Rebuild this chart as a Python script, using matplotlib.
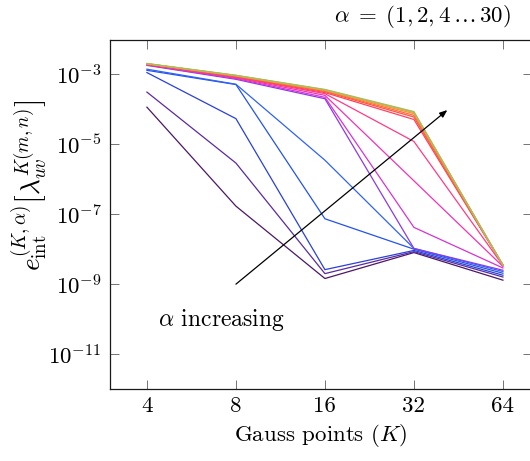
import matplotlib
matplotlib.use("Agg")
import matplotlib.pyplot as plt
from matplotlib.ticker import FixedLocator, LogFormatterSciNotation, NullLocator

plt.rcParams["font.family"] = ["cmr10", "DejaVu Serif"]
plt.rcParams["mathtext.fontset"] = "cm"
plt.rcParams["axes.formatter.use_mathtext"] = True
plt.rcParams["axes.unicode_minus"] = False

# Gauss points K
gauss_points = [4, 8, 16, 32, 64]

# alpha values, one curve each
alphas = [1, 2, 4, 6, 8, 10, 12, 14, 16, 18, 20, 22, 24, 26, 28, 30]

# integration error per alpha, evaluated at each K
err_a1 = [1.15e-4, 1.7e-7, 1.45e-9, 8.0e-9, 1.3e-9]
err_a2 = [3.1e-4, 2.9e-6, 2.0e-9, 8.5e-9, 1.6e-9]
err_a4 = [1.12e-3, 5.4e-5, 2.6e-9, 9.2e-9, 1.8e-9]
err_a6 = [1.3e-3, 5.1e-4, 7.4e-8, 1.0e-8, 2.05e-9]
err_a8 = [1.4e-3, 5.2e-4, 3.5e-6, 1.05e-8, 2.3e-9]
err_a10 = [1.8e-3, 7.2e-4, 2.0e-4, 1.05e-8, 2.5e-9]
err_a12 = [1.85e-3, 7.6e-4, 2.2e-4, 4.2e-8, 2.9e-9]
err_a14 = [1.9e-3, 8.0e-4, 2.5e-4, 9.0e-7, 3.2e-9]
err_a16 = [1.9e-3, 8.3e-4, 2.8e-4, 1.2e-5, 3.4e-9]
err_a18 = [1.95e-3, 8.5e-4, 3.0e-4, 5.1e-5, 3.5e-9]
err_a20 = [1.95e-3, 8.7e-4, 3.2e-4, 6.0e-5, 3.5e-9]
err_a22 = [2.0e-3, 8.9e-4, 3.35e-4, 6.7e-5, 3.5e-9]
err_a24 = [2.0e-3, 9.0e-4, 3.45e-4, 7.5e-5, 3.5e-9]
err_a26 = [2.0e-3, 9.2e-4, 3.55e-4, 8.0e-5, 3.5e-9]
err_a28 = [2.0e-3, 9.3e-4, 3.6e-4, 8.3e-5, 3.5e-9]
err_a30 = [2.05e-3, 9.4e-4, 3.7e-4, 8.6e-5, 3.5e-9]

errors = [err_a1, err_a2, err_a4, err_a6, err_a8, err_a10, err_a12, err_a14,
          err_a16, err_a18, err_a20, err_a22, err_a24, err_a26, err_a28, err_a30]

colors = ["#4b1766", "#5a2aa0", "#2a40d8", "#2452ec", "#2f62f5", "#8a3ae6",
          "#d433d6", "#f232b4", "#ff3a84", "#ff4262", "#ff5244", "#ff6a38",
          "#ff8a36", "#f2a23e", "#cdb24e", "#a2c060"]

FS = 16.5

fig = plt.figure(figsize=(5.30, 4.61), dpi=100)
ax = fig.add_axes([0.2075, 0.156, 0.7955, 0.757])

for err, col in zip(errors, colors):
    ax.plot(gauss_points, err, color=col, lw=0.9)

ax.set_xscale("log", base=2)
ax.set_yscale("log")
ax.set_xlim(3, 80)
ax.set_ylim(1e-12, 9.5e-3)

ax.xaxis.set_major_locator(FixedLocator(gauss_points))
ax.set_xticklabels([str(k) for k in gauss_points])
ax.xaxis.set_minor_locator(NullLocator())
ax.yaxis.set_major_locator(FixedLocator([1e-11, 1e-9, 1e-7, 1e-5, 1e-3]))
ax.yaxis.set_major_formatter(LogFormatterSciNotation())
ax.yaxis.set_minor_locator(NullLocator())

ax.tick_params(axis="both", which="major", direction="in", length=6.5,
               width=0.7, color="0.45", labelsize=FS, top=True, right=True)
ax.tick_params(axis="x", pad=5)
ax.tick_params(axis="y", pad=6)
for sp in ax.spines.values():
    sp.set_linewidth(0.9)
    sp.set_color("0.1")

ax.set_xlabel("Gauss points ($K$)", fontsize=FS, labelpad=5)
ax.set_ylabel(r"$e_{\mathrm{int}}^{(K,\alpha)}\left[\lambda_{uv}^{K(m,n)}\right]$",
              fontsize=FS + 3)
ax.yaxis.set_label_coords(-0.14, 0.585)

fig.text(0.963, 0.993, r"$\alpha\;=\;(1,2,4\,\ldots\,30)$", ha="right",
         va="top", fontsize=FS)

ax.annotate("", xy=(41.5, 9.5e-5), xytext=(8, 1e-9),
            arrowprops=dict(arrowstyle="-|>,head_length=0.45,head_width=0.18",
                            color="black", lw=0.9, shrinkA=0, shrinkB=0))
ax.text(4.35, 9.5e-11, r"$\alpha$ increasing", fontsize=FS + 0.5,
        ha="left", va="center")

fig.savefig("out.png", dpi=100)
